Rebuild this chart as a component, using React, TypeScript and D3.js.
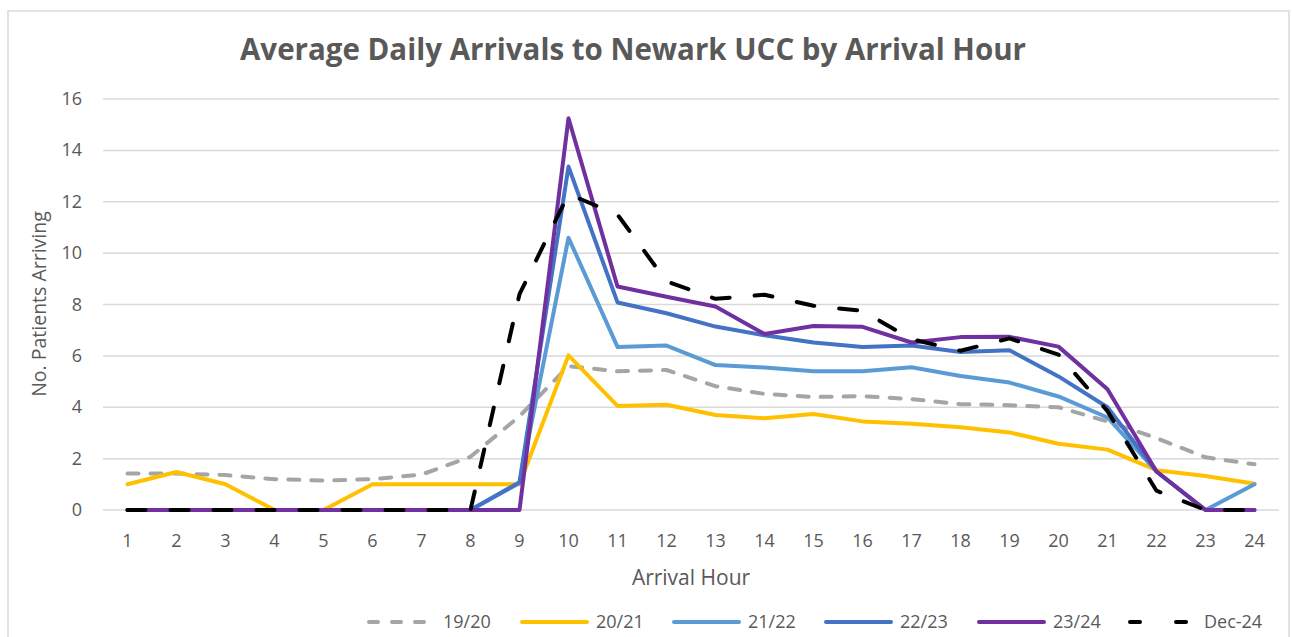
import React from "react";
import * as d3 from "d3";

const hours = ["1","2","3","4","5","6","7","8","9","10","11","12","13","14","15","16","17","18","19","20","21","22","23","24"];
const s1920 = [1.42,1.42,1.36,1.2,1.15,1.2,1.38,2.07,3.65,5.6,5.4,5.45,4.82,4.52,4.4,4.43,4.32,4.12,4.08,4.0,3.45,2.8,2.05,1.78];
const s2021 = [1.0,1.48,1.0,0,0,1.0,1.0,1.0,1.0,6.02,4.05,4.1,3.7,3.57,3.74,3.45,3.36,3.22,3.02,2.58,2.35,1.55,1.32,1.02];
const s2122 = [0,0,0,0,0,0,0,0,1.05,10.6,6.35,6.4,5.64,5.55,5.4,5.4,5.56,5.22,4.96,4.42,3.6,1.5,0,1.0];
const s2223 = [0,0,0,0,0,0,0,0,1.08,13.37,8.08,7.66,7.14,6.8,6.52,6.35,6.4,6.15,6.22,5.2,4.0,1.5,0,0];
const s2324 = [0,0,0,0,0,0,0,0,0,15.25,8.7,8.3,7.92,6.85,7.16,7.13,6.52,6.73,6.74,6.36,4.7,1.5,0,0];
const sDec24 = [0,0,0,0,0,0,0,0,8.4,12.3,11.5,8.9,8.22,8.38,7.95,7.75,6.65,6.2,6.68,6.05,3.85,0.75,0,0];
const yTicks = [0,2,4,6,8,10,12,14,16];

const seriesNames = ["19/20","20/21","21/22","22/23","23/24","Dec-24"];
const seriesData = [s1920, s2021, s2122, s2223, s2324, sDec24];
const seriesColors = ["#A5A5A5","#FFC000","#5B9BD5","#4472C4","#7030A0","#000000"];
const seriesDash = ["11 12", null, null, null, null, "18 25"];

const W = 1292, H = 637;
const plotL = 103, plotR = 1279, plotT = 99, plotB = 510;
const font = "'Open Sans', sans-serif";
const textColor = "#595959";

export default function App() {
  const x = d3.scalePoint<string>().domain(hours).range([plotL, plotR]).padding(0.5);
  const y = d3.scaleLinear().domain([0, 16]).range([plotB, plotT]);
  const line = d3.line<number>().x((_, i) => x(hours[i])!).y(d => y(d));
  const legendX = [367, 520, 672, 824, 977, 1128];
  return (
    <div style={{ position: "absolute", left: 0, top: 0 }}>
      <svg width={W} height={H} style={{ display: "block", background: "#fff" }}>
        <rect x={8} y={11} width={1281} height={640} fill="#fff" stroke="#D9D9D9" strokeWidth={1.5} />
        <text x={633} y={60} textAnchor="middle" fontFamily={font} fontWeight={700} fontSize={29.5} fill={textColor}>
          Average Daily Arrivals to Newark UCC by Arrival Hour
        </text>
        {yTicks.map(t => (
          <g key={t}>
            <line x1={plotL} x2={plotR} y1={y(t)} y2={y(t)} stroke="#D9D9D9" strokeWidth={1.5} />
            <text x={82} y={y(t) + 6} textAnchor="end" fontFamily={font} fontSize={18} fill={textColor}>{t}</text>
          </g>
        ))}
        {hours.map(h => (
          <text key={h} x={x(h)!} y={547} textAnchor="middle" fontFamily={font} fontSize={18} fill={textColor}>{h}</text>
        ))}
        <text x={691} y={585} textAnchor="middle" fontFamily={font} fontSize={21} fill={textColor}>Arrival Hour</text>
        <text transform={`translate(46,304) rotate(-90)`} textAnchor="middle" fontFamily={font} fontSize={19.5} fill={textColor}>No. Patients Arriving</text>
        {seriesData.map((d, i) => (
          <path key={seriesNames[i]} d={line(d)!} fill="none" stroke={seriesColors[i]} strokeWidth={4}
            strokeLinejoin="round" strokeLinecap="round"
            strokeDasharray={seriesDash[i] ?? undefined} />
        ))}
        {seriesNames.map((n, i) => (
          <g key={n}>
            <line x1={legendX[i] + 2} x2={legendX[i] + 67} y1={622} y2={622} stroke={seriesColors[i]} strokeWidth={4}
              strokeLinecap="round" strokeDasharray={i === 0 ? "9 14" : i === 5 ? "10 36" : undefined} />
            <text x={legendX[i] + 76} y={628} fontFamily={font} fontSize={18} fill={textColor}>{n}</text>
          </g>
        ))}
      </svg>
    </div>
  );
}
